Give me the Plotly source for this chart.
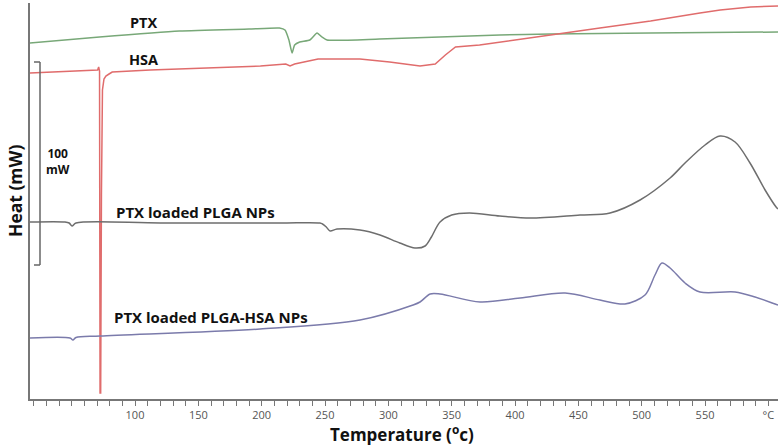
import plotly.graph_objects as go

# Temperature (°C) and heat-flow (arbitrary mW-scaled units)
ptx_T = [17, 72, 135, 190, 214, 218.4, 221.5, 224, 226, 230, 238, 243.7, 247.6, 251.6, 293, 388, 428, 507, 607.6]
ptx_H = [402, 408, 414, 416, 417, 415, 405, 392, 400, 403, 405, 412, 408, 405, 406, 410, 411, 412, 413]

hsa_T = [17, 50, 70.5, 71.3, 72.0, 72.4, 72.9, 73.5, 74.3, 75.5, 77, 79.5, 82, 112, 135, 199, 219, 222.4, 226,
         244.5, 277.6, 301, 325, 337, 345, 353, 372, 388, 428, 467, 507, 546, 562, 586, 607.6]
hsa_H = [372, 374, 375, 378, 374, 52, 52, 250, 355, 366, 369, 371, 373, 375, 376, 379, 381, 379, 381,
         386, 386, 383, 379, 381, 390, 398, 400, 403, 410, 417, 424, 432, 435, 438, 439]

plga_T = [17, 44.7, 48, 50.3, 53.4, 120, 214.5, 246, 248, 251, 254, 259.5, 277.6, 293.4, 309, 321, 329, 334,
          340.8, 350, 364, 388, 412, 451.3, 475, 498.7, 522.4, 534.2, 550, 561.8, 573.7, 585.5, 597.4, 606.1, 607.6]
plga_H = [223, 223, 222, 219, 222, 222, 222, 222, 221, 218, 214, 216, 215, 210, 202, 197, 199, 208,
          223, 230, 232, 229, 227, 230, 232, 245, 267, 282, 300, 309, 303, 282, 255, 238, 236]

hsa_np_T = [17, 48.7, 51, 53.4, 72.4, 198.7, 277.6, 319.5, 325, 333, 340.8, 372.4, 404, 439.5, 467, 486.8,
            502.6, 510.5, 516, 522.4, 534.2, 546, 573.7, 589.5, 605.3, 607.6]
hsa_np_H = [107, 107, 105, 107.5, 109, 116, 125, 140, 143, 151, 151, 143, 147, 152, 145, 141,
            150, 170, 182, 177, 162, 153, 153, 148, 141, 140]

tick_vals = list(range(20, 601, 10))
tick_text = [("°C" if v == 600 else (str(v) if v % 50 == 0 and v >= 100 else "")) for v in tick_vals]

W, H = 778, 445
ML, MR, MT, MB = 30, 0, 3, 46
PW, PH = W - ML - MR, H - MT - MB


def paper(px, py):
    return (px - ML) / PW, (H - MB - py) / PH


fig = go.Figure()
fig.add_trace(go.Scatter(x=ptx_T, y=ptx_H, mode="lines", line=dict(color="#78a878", width=1.5, shape="spline", smoothing=0.5)))
fig.add_trace(go.Scatter(x=hsa_T, y=hsa_H, mode="lines", line=dict(color="#e06c6c", width=1.5)))
fig.add_trace(go.Scatter(x=plga_T, y=plga_H, mode="lines", line=dict(color="#6e6e6e", width=1.5, shape="spline", smoothing=0.9)))
fig.add_trace(go.Scatter(x=hsa_np_T, y=hsa_np_H, mode="lines", line=dict(color="#7b7bab", width=1.5, shape="spline", smoothing=0.9)))

annos = []
def label(text, px, py, size=14, anchor="left", angle=0, bold=True, color="#111"):
    x, y = paper(px, py)
    annos.append(dict(text=f"<b>{text}</b>" if bold else text, x=x, y=y, xref="paper", yref="paper",
                      xanchor=anchor, yanchor="middle", showarrow=False, textangle=angle,
                      font=dict(family="Open Sans", size=size, color=color)))

label("PTX", 128, 22, size=14.5)
label("HSA", 127, 60, size=14.5)
label("100<br>mW", 44, 161, size=12)
label("PTX loaded PLGA NPs", 114, 212, size=15)
label("PTX loaded PLGA-HSA NPs", 112, 317, size=15)
label("Heat (mW)", 15, 191, size=17.5, anchor="center", angle=-90)
label("Temperature (<sup>o</sup>c)", 402, 433, size=17, anchor="center")

shapes = []
# scale bar bracket
for (x0, y0, x1, y1) in [(34, 62, 40, 62), (40, 62, 40, 265), (34, 265, 40, 265)]:
    a = paper(x0, y0); b = paper(x1, y1)
    shapes.append(dict(type="line", xref="paper", yref="paper", x0=a[0], y0=a[1], x1=b[0], y1=b[1],
                       line=dict(color="#666", width=1.5)))

fig.update_layout(
    width=W, height=H, margin=dict(l=ML, r=MR, t=MT, b=MB, autoexpand=False),
    plot_bgcolor="white", paper_bgcolor="white", showlegend=False,
    annotations=annos, shapes=shapes,
    xaxis=dict(range=[17.1, 607.6], showgrid=False, zeroline=False, showline=True, linecolor="#777", linewidth=2,
               ticks="outside", ticklen=5, tickcolor="#777", tickwidth=1, automargin=False,
               tickmode="array", tickvals=tick_vals, ticktext=tick_text,
               tickfont=dict(family="Open Sans", size=11, color="#555")),
    yaxis=dict(range=[46, 442], showgrid=False, zeroline=False, showline=True, linecolor="#777", linewidth=2,
               showticklabels=False, ticks="", automargin=False),
)
fig.write_html("out.html", config={"displayModeBar": False},
               post_script="document.body.style.margin='0px';document.body.style.overflow='hidden';")
